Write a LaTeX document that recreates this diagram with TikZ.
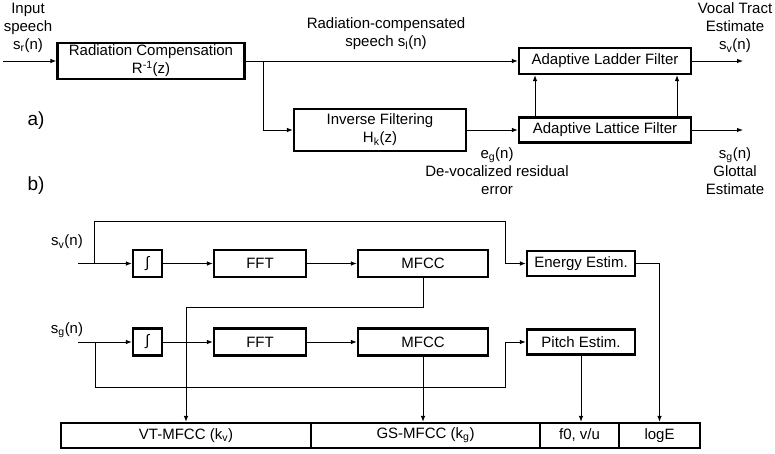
\documentclass[tikz,border=0pt]{standalone}
\usepackage{fontspec}
\setmainfont{Liberation Sans}
\usetikzlibrary{arrows.meta}

\begin{document}
\begin{tikzpicture}[
    x=1pt, y=-1pt,
    every node/.style={font=\fontsize{15}{18}\selectfont},
    blk/.style={
        draw,
        line width=2.2pt,
        inner sep=0pt,
        align=center,
        minimum height=27pt
    },
    cell/.style={
        draw,
        line width=2.2pt,
        inner sep=0pt,
        align=center,
        minimum height=25pt
    },
    lbl/.style={
        inner sep=0pt,
        align=center
    },
    tag/.style={
        inner sep=0pt,
        font=\fontsize{19}{22}\selectfont
    },
    arr/.style={
        -{Latex[length=6pt,width=4.5pt]},
        line width=0.9pt
    }
]
\useasboundingbox (0,0) rectangle (775,454);

% ---------------- a) analysis ----------------
\node[tag] (tagA) at (36,121) {a)};

\node[lbl] (inlbl) at (28,28) {Input\\speech\\s\textsubscript{r}(n)};
\node[blk, minimum width=187pt, minimum height=36pt] (radcomp) at (151,61)
    {Radiation Compensation\\R\textsuperscript{-1}(z)};
\node[blk, minimum width=172pt, minimum height=42pt] (inverse) at (380,130)
    {Inverse Filtering\\H\textsubscript{k}(z)};
\node[blk, minimum width=172pt, minimum height=26pt] (ladder) at (605,61)
    {Adaptive Ladder Filter};
\node[blk, minimum width=172pt, minimum height=25pt] (lattice) at (605,130)
    {Adaptive Lattice Filter};

\node[lbl] (sllbl) at (386,34) {Radiation-compensated\\speech s\textsubscript{l}(n)};
\node[lbl] (eglbl) at (497,171) {e\textsubscript{g}(n)\\De-vocalized residual\\error};
\node[lbl] (vtlbl) at (735,28) {Vocal Tract\\Estimate\\s\textsubscript{v}(n)};
\node[lbl] (gslbl) at (735,171) {s\textsubscript{g}(n)\\Glottal\\Estimate};

\coordinate (inspeech) at (3,61);
\coordinate (split) at (263,61);
\coordinate (vtout) at (743,61);
\coordinate (gsout) at (743,130);

\draw[arr] (inspeech) -- (radcomp);
\draw[arr] (radcomp) -- (ladder);
\draw[arr] (split) |- (inverse.west);
\draw[arr] (inverse) -- (lattice);
\draw[arr] ([xshift=-70pt]lattice.north) -- ([xshift=-70pt]ladder.south);
\draw[arr] ([xshift=72pt]lattice.north) -- ([xshift=72pt]ladder.south);
\draw[arr] (ladder) -- (vtout);
\draw[arr] (lattice) -- (gsout);

% ---------------- b) feature extraction ----------------
\node[tag] (tagB) at (36,186) {b)};

\node[lbl] (svlbl) at (67,242) {s\textsubscript{v}(n)};
\node[blk, minimum width=29pt] (intv) at (147.5,263.5) {∫};
\node[blk, minimum width=92pt] (fftv) at (260,263.5) {FFT};
\node[blk, minimum width=130pt] (mfccv) at (423,263.5) {MFCC};
\node[blk, minimum width=108pt, minimum height=25pt] (energy) at (581,263.5) {Energy Estim.};

\node[lbl] (sglbl) at (67,330) {s\textsubscript{g}(n)};
\node[blk, minimum width=29pt] (intg) at (147.5,342) {∫};
\node[blk, minimum width=92pt] (fftg) at (260,342) {FFT};
\node[blk, minimum width=130pt] (mfccg) at (423,342) {MFCC};
\node[blk, minimum width=108pt, minimum height=25pt] (pitch) at (581,342) {Pitch Estim.};

\node[cell, minimum width=250pt] (vtmfcc) at (186,435.5) {VT-MFCC (k\textsubscript{v})};
\node[cell, minimum width=229pt] (gsmfcc) at (425.5,435.5) {GS-MFCC (k\textsubscript{g})};
\node[cell, minimum width=79pt] (fzero) at (579.5,435.5) {f0, v/u};
\node[cell, minimum width=81pt] (loge) at (659.5,435.5) {logE};

\coordinate (vin) at (78,263.5);
\coordinate (vsplit) at (94,263.5);
\coordinate (vtop) at (94,221);
\coordinate (vdrop) at (505,221);
\coordinate (vtturn) at (423,307);
\coordinate (gin) at (78,342);
\coordinate (gsplit) at (95,342);
\coordinate (gbot) at (95,387);
\coordinate (grise) at (505,387);

\draw[arr] (vin) -- (intv);
\draw[arr] (intv) -- (fftv);
\draw[arr] (fftv) -- (mfccv);
\draw[arr] (vsplit) -- (vtop) -- (vdrop) |- (energy.west);
\draw[arr] (mfccv.south) -- (vtturn) -| (vtmfcc.north);
\draw[arr] (energy.east) -| (loge.north);

\draw[arr] (gin) -- (intg);
\draw[arr] (intg) -- (fftg);
\draw[arr] (fftg) -- (mfccg);
\draw[arr] (gsplit) -- (gbot) -- (grise) |- (pitch.west);
\draw[arr] (mfccg.south) -- (mfccg.south |- gsmfcc.north);
\draw[arr] (pitch.south) -- (pitch.south |- fzero.north);

\end{tikzpicture}
\end{document}
